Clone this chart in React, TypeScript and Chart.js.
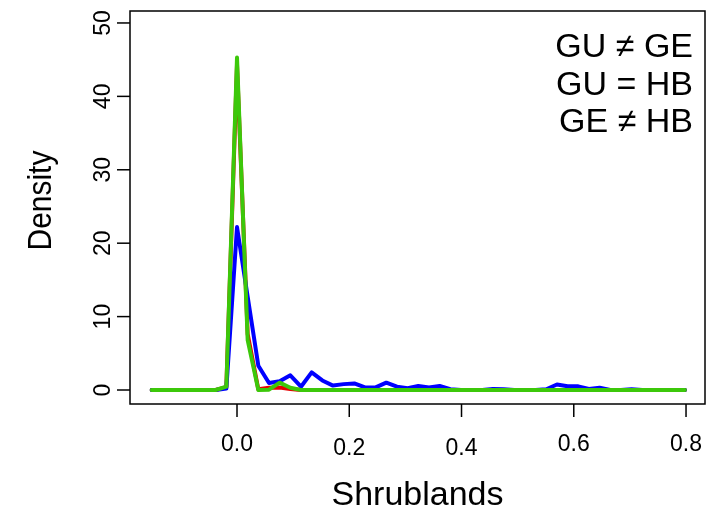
import React, { useEffect, useRef } from "react";
import { Chart, registerables } from "chart.js";

Chart.register(...registerables);

// x grid of the density estimates (Shrublands)
const xValues = [
  -0.152, -0.133, -0.114, -0.095, -0.076, -0.057, -0.038, -0.019, 0.0, 0.019,
  0.038, 0.057, 0.076, 0.095, 0.114, 0.133, 0.152, 0.171, 0.19, 0.209,
  0.228, 0.247, 0.266, 0.285, 0.304, 0.323, 0.342, 0.361, 0.38, 0.399,
  0.418, 0.437, 0.456, 0.475, 0.494, 0.513, 0.532, 0.551, 0.57, 0.589,
  0.608, 0.627, 0.646, 0.665, 0.684, 0.703, 0.722, 0.741, 0.76, 0.779, 0.798,
];

// GU (red)
const densityGU = [
  0, 0, 0, 0, 0, 0, 0, 0.4, 44.3, 7.6,
  0.1, 0.3, 0.35, 0.15, 0, 0, 0, 0, 0, 0,
  0, 0, 0, 0, 0, 0, 0, 0, 0, 0,
  0, 0, 0, 0, 0, 0, 0, 0, 0, 0,
  0, 0, 0, 0, 0, 0, 0, 0, 0, 0, 0,
];

// GE (blue)
const densityGE = [
  0, 0, 0, 0, 0, 0, 0, 0.2, 22.2, 12.7,
  3.3, 0.95, 1.2, 2.0, 0.45, 2.4, 1.3, 0.6, 0.8, 0.9,
  0.35, 0.35, 1.0, 0.45, 0.25, 0.55, 0.35, 0.55, 0.1, 0,
  0, 0, 0.15, 0.1, 0, 0, 0, 0.1, 0.75, 0.5,
  0.5, 0.15, 0.3, 0, 0, 0.1, 0, 0, 0, 0, 0,
];

// HB (green)
const densityHB = [
  0, 0, 0, 0, 0, 0, 0, 0.45, 45.3, 6.8,
  0, 0.05, 1.0, 0.3, 0, 0, 0, 0, 0, 0,
  0, 0, 0, 0, 0, 0, 0, 0, 0, 0,
  0, 0, 0, 0, 0, 0, 0, 0, 0, 0,
  0, 0, 0, 0, 0, 0, 0, 0, 0, 0, 0,
];

const xTicks = [0.0, 0.2, 0.4, 0.6, 0.8];
const xTickLabels = ["0.0", "0.2", "0.4", "0.6", "0.8"];
const yTicks = [0, 10, 20, 30, 40, 50];
const yTickLabels = ["0", "10", "20", "30", "40", "50"];
const legendLines = ["GU \u2260 GE", "GU = HB", "GE \u2260 HB"];
const xTitle = "Shrublands";
const yTitle = "Density";

const FONT = "'Liberation Sans', Arial, Helvetica, sans-serif";
// small vertical shifts seen on some x tick labels in the reference
const xLabelShift = [0, 4, 4, 0, 0];

const framePlugin = {
  id: "rFrame",
  afterDraw(chart: any) {
    const ctx = chart.ctx as CanvasRenderingContext2D;
    const { left, right, top, bottom } = chart.chartArea;
    const xs = chart.scales.x;
    const ys = chart.scales.y;
    ctx.save();
    ctx.strokeStyle = "#000";
    ctx.fillStyle = "#000";
    ctx.lineWidth = 1.5;
    ctx.strokeRect(left, top, right - left, bottom - top);

    // y axis ticks and labels
    ctx.font = `23px ${FONT}`;
    yTicks.forEach((v, i) => {
      const y = ys.getPixelForValue(v);
      ctx.beginPath();
      ctx.moveTo(left - 13, y);
      ctx.lineTo(left, y);
      ctx.stroke();
      ctx.save();
      ctx.translate(left - 20, y);
      ctx.rotate(-Math.PI / 2);
      ctx.textAlign = "center";
      ctx.textBaseline = "alphabetic";
      ctx.fillText(yTickLabels[i], 0, 0);
      ctx.restore();
    });

    // x axis ticks and labels
    xTicks.forEach((v, i) => {
      const x = xs.getPixelForValue(v);
      ctx.beginPath();
      ctx.moveTo(x, bottom);
      ctx.lineTo(x, bottom + 13);
      ctx.stroke();
      ctx.textAlign = "center";
      ctx.textBaseline = "alphabetic";
      ctx.fillText(xTickLabels[i], x, bottom + 47 + xLabelShift[i]);
    });

    // axis titles
    ctx.font = `34px ${FONT}`;
    ctx.textAlign = "center";
    ctx.textBaseline = "alphabetic";
    ctx.fillText(xTitle, (left + right) / 2, bottom + 101);
    ctx.save();
    ctx.translate(left - 79, (top + bottom) / 2 - 7);
    ctx.rotate(-Math.PI / 2);
    ctx.scale(0.88, 1);
    ctx.fillText(yTitle, 0, 0);
    ctx.restore();

    // text legend (top right)
    ctx.font = `34px ${FONT}`;
    ctx.textAlign = "right";
    legendLines.forEach((t, i) => {
      ctx.fillText(t, right - 12, top + 46 + i * 37.5);
    });
    ctx.restore();
  },
};

export default function App() {
  const canvasRef = useRef<HTMLCanvasElement | null>(null);

  useEffect(() => {
    if (!canvasRef.current) return;
    const mk = (data: number[]) => xValues.map((x, i) => ({ x, y: data[i] }));
    const chart = new Chart(canvasRef.current, {
      type: "line",
      data: {
        datasets: [
          {
            label: "GU",
            data: mk(densityGU),
            borderColor: "#E60000",
            borderWidth: 4,
            pointRadius: 0,
            tension: 0,
            fill: false,
            order: 2,
          },
          {
            label: "GE",
            data: mk(densityGE),
            borderColor: "#0000FF",
            borderWidth: 4,
            pointRadius: 0,
            tension: 0,
            fill: false,
            order: 1,
          },
          {
            label: "HB",
            data: mk(densityHB),
            borderColor: "#3CC80A",
            borderWidth: 4,
            pointRadius: 0,
            tension: 0,
            fill: false,
            order: 0,
          },
        ],
      },
      options: {
        responsive: false,
        maintainAspectRatio: false,
        devicePixelRatio: 1,
        animation: false,
        layout: { padding: { left: 130, right: 10, top: 11, bottom: 114 } },
        scales: {
          x: { type: "linear", min: -0.19065, max: 0.8338, display: false },
          y: { type: "linear", min: -1.907, max: 51.63, display: false },
        },
        plugins: {
          legend: { display: false },
          tooltip: { enabled: false },
        },
        elements: { line: { borderJoinStyle: "round", borderCapStyle: "round" } },
      },
      plugins: [framePlugin],
    });
    return () => chart.destroy();
  }, []);

  return (
    <div style={{ position: "fixed", left: 0, top: 0, width: 715, height: 518, background: "#fff" }}>
      <canvas ref={canvasRef} width={715} height={518} style={{ display: "block", width: 715, height: 518 }} />
    </div>
  );
}
